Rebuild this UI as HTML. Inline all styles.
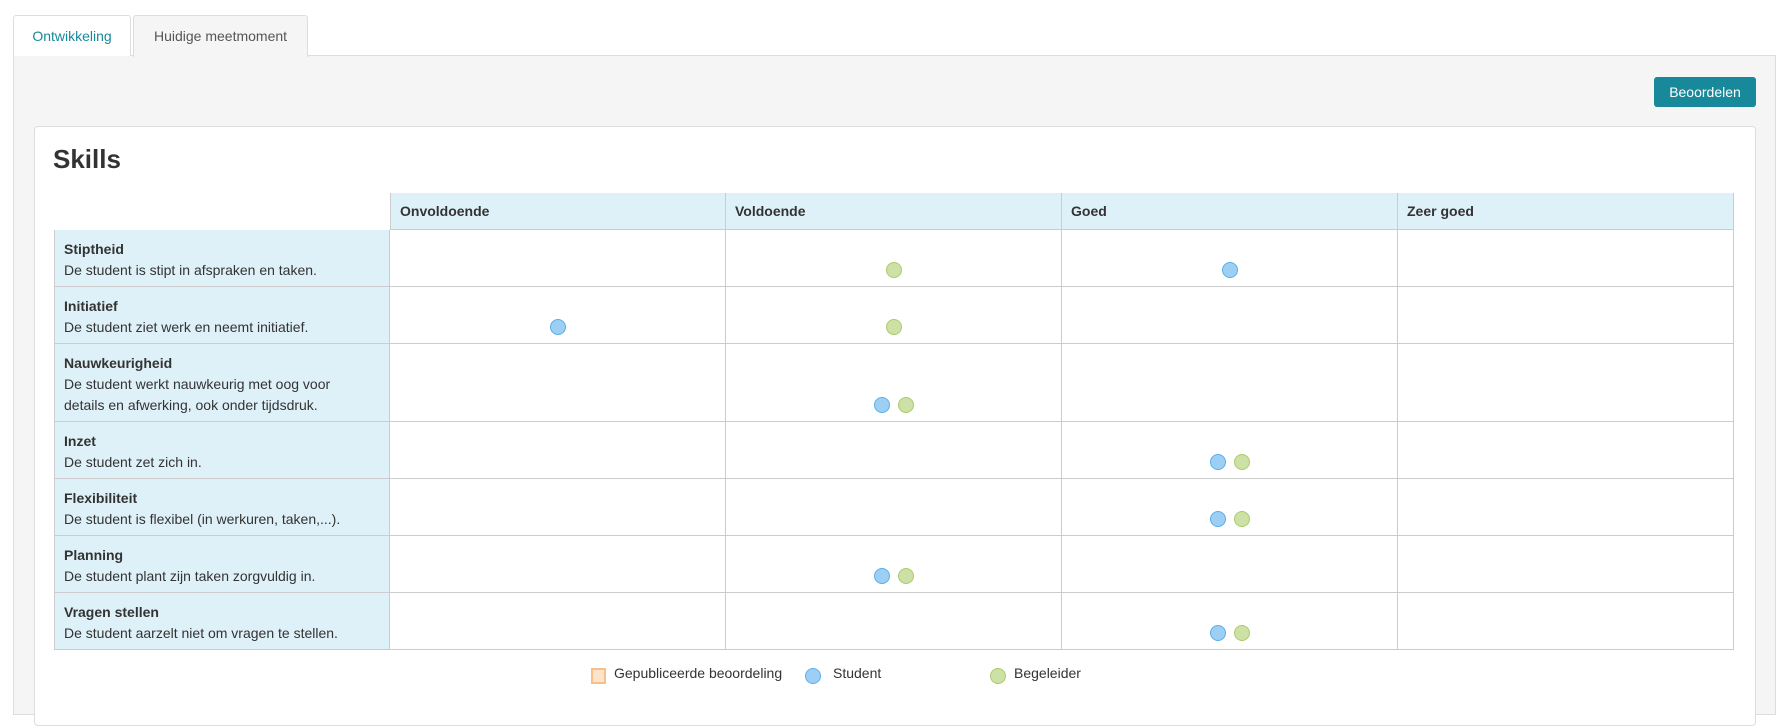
<!DOCTYPE html>
<html><head><meta charset="utf-8"><style>
body{margin:0;width:1787px;height:705px;background:#fff;font-family:"Liberation Sans",sans-serif;color:#333;position:relative;overflow:hidden}
.abs{position:absolute;box-sizing:border-box}
.tab{top:15px;height:41px;border:1px solid #ddd;border-bottom:none;border-radius:3px 3px 0 0;font-size:14px;line-height:40px;text-align:center}
.cell{position:absolute;box-sizing:border-box;border-right:1px solid #ccc;border-bottom:1px solid #ccc}
.lbl{background:#dff1f8;padding:9px 9px;font-size:14px;line-height:21px}
.hd{background:#dff1f8;font-weight:bold;font-size:14px;padding:0 9px;line-height:36px}
.dot{position:absolute;width:16px;height:16px;border-radius:50%;box-sizing:border-box}
.s{background:#9dcff5;border:1px solid #5aaee8}
.b{background:#cde0a6;border:1px solid #a9cc6b}
.leg{font-size:14px;top:665px}
</style></head><body>
<div class="abs" style="left:13px;top:55px;width:1763px;height:660px;background:#f5f5f5;border:1px solid #ddd"></div>
<div class="abs tab" style="left:13px;width:118px;background:#fff;color:#17899b">Ontwikkeling</div>
<div class="abs tab" style="left:133px;width:175px;height:42px;background:#f5f5f5;color:#555">Huidige meetmoment</div>
<div class="abs" style="left:1654px;top:77px;width:102px;height:30px;background:#17899b;color:#fff;border-radius:3px;font-size:14px;line-height:30px;text-align:center">Beoordelen</div>
<div class="abs" style="left:34px;top:126px;width:1722px;height:600px;background:#fff;border:1px solid #ddd;border-radius:4px"></div>
<div class="abs" style="left:53px;top:144px;font-size:26px;font-weight:bold;color:#333">Skills</div>
<div id="tbl"></div>
<div class="abs" style="left:591px;top:668px;width:15px;height:16px;background:#fde3c8;border:2px solid #f7c08a"></div>
<div class="abs leg" style="left:614px">Gepubliceerde beoordeling</div>
<div class="dot s" style="left:805px;top:668px"></div>
<div class="abs leg" style="left:833px">Student</div>
<div class="dot b" style="left:990px;top:668px"></div>
<div class="abs leg" style="left:1014px">Begeleider</div>
<script>
const levels=["Onvoldoende","Voldoende","Goed","Zeer goed"];
const skills=["Stiptheid","Initiatief","Nauwkeurigheid","Inzet","Flexibiliteit","Planning","Vragen stellen"];
const descriptions=["De student is stipt in afspraken en taken.","De student ziet werk en neemt initiatief.","De student werkt nauwkeurig met oog voor<br>details en afwerking, ook onder tijdsdruk.","De student zet zich in.","De student is flexibel (in werkuren, taken,...).","De student plant zijn taken zorgvuldig in.","De student aarzelt niet om vragen te stellen."];
const studentScores=[2,0,1,2,2,1,2];
const begeleiderScores=[1,1,1,2,2,1,2];
const T=document.getElementById('tbl');
const X0=54,LW=336,CW=336,HT=193,HH=37;
const rowH=[57,57,78,57,57,57,57];
function colX(i){return X0+LW+i*CW;}
function add(cls,l,t,w,h,html,name){const d=document.createElement('div');d.className=cls;d.style.cssText=`left:${l}px;top:${t}px;width:${w}px;height:${h}px`;d.innerHTML=html||'';


T.appendChild(d);return d;}
const top0=add('cell',colX(0),HT,CW*4,0,'','header-top-border');top0.style.borderTop='1px solid #ccc';top0.style.borderRight='none';top0.style.borderBottom='none';
levels.forEach((lv,i)=>{const c=add('cell hd',colX(i),HT,CW,HH,lv,'header-'+lv.toLowerCase().replace(' ','-'));if(i==0)c.style.borderLeft='1px solid #ccc';});
let y=HT+HH;
skills.forEach((sk,r)=>{
 const h=rowH[r];
 const l=add('cell lbl',X0,y,LW,h,'<b>'+sk+'</b><br>'+descriptions[r],'row-label-'+sk.toLowerCase().replace(' ','-'));l.style.borderLeft='1px solid #ccc';
 for(let i=0;i<4;i++)add('cell',colX(i),y,CW,h,'','cell');
 const cy=y+h-17-8;
 function dot(cls,col,off,name){const d=document.createElement('div');d.className='dot '+cls;d.style.left=(colX(col)+CW/2-8+off)+'px';d.style.top=cy+'px';
 
 
 T.appendChild(d);}
 if(studentScores[r]===begeleiderScores[r]){dot('s',studentScores[r],-12,'student-dot');dot('b',begeleiderScores[r],12,'begeleider-dot');}
 else{dot('s',studentScores[r],0,'student-dot');dot('b',begeleiderScores[r],0,'begeleider-dot');}
 y+=h;
});
</script>
</body></html>
